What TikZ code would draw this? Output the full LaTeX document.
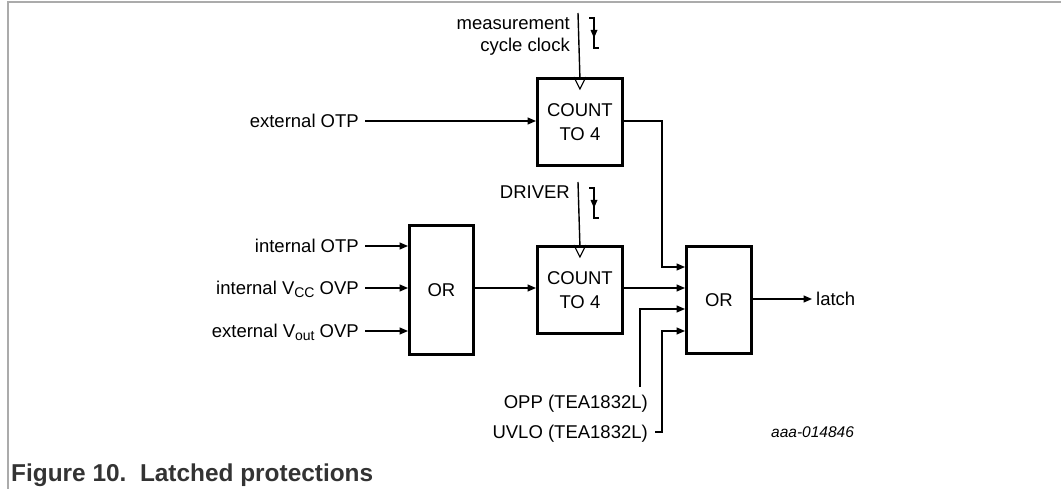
\documentclass[tikz,border=0pt]{standalone}
\usepackage{fontspec}
\setmainfont{Liberation Sans}
\usetikzlibrary{arrows.meta}
\newcommand\sbs[1]{\raisebox{-0.3ex}{\fontsize{14}{14}\selectfont #1}}
\begin{document}
\begin{tikzpicture}[x=1pt,y=-1pt,
  lbl/.style={font=\fontsize{18.5}{20}\selectfont, inner sep=0pt, text height=13pt, text depth=0pt},
  blk/.style={draw, line width=2.8pt, inner sep=0pt, align=center, anchor=north west,
    font=\fontsize{18.5}{24}\selectfont},
  wire/.style={line width=1.4pt},
  arr/.style={wire,-{Triangle[length=8.5pt,width=7pt]}},
  frame/.style={draw=black!33, line width=2pt}]
\useasboundingbox (0,0) rectangle (1061,489);
\draw[frame] (8,489) -- (8,2.5) -- (1061,2.5);

% blocks
\node[blk, minimum width=85pt, minimum height=87pt] (cnt1) at (536,77) {COUNT\\TO 4};
\node[blk, minimum width=85pt, minimum height=87pt] (cnt2) at (536,245) {COUNT\\TO 4};
\node[blk, minimum width=64pt, minimum height=129pt] (or1) at (408,224) {OR};
\node[blk, minimum width=65pt, minimum height=107pt] (or2) at (685,245) {OR};

% labels
\node[lbl, anchor=base east] (mc1) at (570,30) {measurement};
\node[lbl, anchor=base east] (mc2) at (570,52) {cycle clock};
\node[lbl, anchor=base east] (drv) at (570,199) {DRIVER};
\node[lbl, anchor=east] (eotp) at (359,121) {external OTP};
\node[lbl, anchor=east] (iotp) at (359,246) {internal OTP};
\node[lbl, anchor=east] (ivcc) at (359,288) {internal V\sbs{CC} OVP};
\node[lbl, anchor=east] (evout) at (359,331) {external V\sbs{out} OVP};
\node[lbl, anchor=east] (opp) at (648,402) {OPP (TEA1832L)};
\node[lbl, anchor=east] (uvlo) at (648,432) {UVLO (TEA1832L)};
\node[lbl, anchor=west] (latch) at (816,299) {latch};
\node[font=\fontsize{15.5}{18}\selectfont\itshape, inner sep=0pt, anchor=west] (code) at (771,432) {aaa-014846};
\node[font=\fontsize{24.4}{26}\selectfont\bfseries, text=black!80, inner sep=0pt, anchor=base west] (cap) at (11,481) {Figure 10.\ \ Latched protections};

% coordinates
\coordinate (clk1) at (578,13);
\coordinate (clk2) at (578,182);
\coordinate (oppend) at (640,387);
\coordinate (o2a) at (685,267);
\coordinate (o2b) at (685,288);
\coordinate (o2c) at (685,309);
\coordinate (o2d) at (685,331);
\coordinate (lend) at (812,299);

% clock lines and triangles
\draw[wire] (clk1) -- (cnt1.north);
\draw[wire] (clk2) -- (cnt2.north);
\foreach \b in {cnt1,cnt2}{
  \draw[line width=1.1pt, line join=miter] ([xshift=-6pt]\b.north) -- ([yshift=-12pt]\b.north) -- ([xshift=6pt]\b.north);
}
% pulse symbols
\foreach \y in {18,188}{
  \draw[wire] (589,\y) -- (594,\y) -- (594,\y+30) -- (599,\y+30);
  \fill (590.5,\y+12) -- (597.5,\y+12) -- (594,\y+20) -- cycle;
}

% inputs
\draw[arr] ([xshift=6pt]eotp.east) -- (cnt1.west |- eotp.east);
\draw[arr] ([xshift=6pt]iotp.east) -- (or1.west |- iotp.east);
\draw[arr] ([xshift=6pt]ivcc.east) -- (or1.west |- ivcc.east);
\draw[arr] ([xshift=6pt]evout.east) -- (or1.west |- evout.east);
\draw[arr] (or1.east |- o2b) -- (cnt2.west |- o2b);

% to second OR
\draw[arr] (cnt1.east |- eotp.east) -| (662,267) -- (o2a);
\draw[arr] (cnt2.east |- o2b) -- (o2b);
\draw[arr] (oppend) |- (o2c);
\draw[arr] ([xshift=7pt]uvlo.east) -- (662,432) |- (o2d);
\draw[arr] (or2.east |- lend) -- (lend);
\end{tikzpicture}
\end{document}
